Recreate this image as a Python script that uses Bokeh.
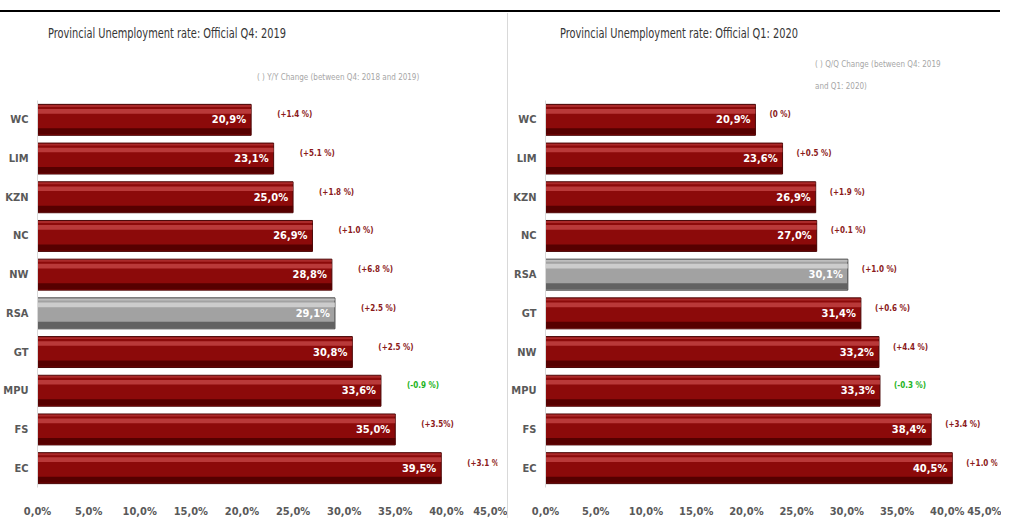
from bokeh.plotting import figure
from bokeh.models import FactorRange, FixedTicker, CustomJSTickFormatter, Div, ColumnDataSource
from bokeh.layouts import row, column
from bokeh.transform import dodge
from bokeh.core.properties import value
from bokeh.embed import file_html
from bokeh.resources import INLINE

# ---- data ----
left_cats = ["WC", "LIM", "KZN", "NC", "NW", "RSA", "GT", "MPU", "FS", "EC"]
left_vals = [20.9, 23.1, 25.0, 26.9, 28.8, 29.1, 30.8, 33.6, 35.0, 39.5]
left_chg = ["(+1.4 %)", "(+5.1 %)", "(+1.8 %)", "(+1.0 %)", "(+6.8 %)",
            "(+2.5 %)", "(+2.5 %)", "(-0.9 %)", "(+3.5%)", "(+3.1 %)"]

right_cats = ["WC", "LIM", "KZN", "NC", "RSA", "GT", "NW", "MPU", "FS", "EC"]
right_vals = [20.9, 23.6, 26.9, 27.0, 30.1, 31.4, 33.2, 33.3, 38.4, 40.5]
right_chg = ["(0 %)", "(+0.5 %)", "(+1.9 %)", "(+0.1 %)", "(+1.0 %)",
             "(+0.6 %)", "(+4.4 %)", "(-0.3 %)", "(+3.4 %)", "(+1.0 %)"]

x_ticks = [0, 5, 10, 15, 20, 25, 30, 35, 40, 45]

left_title = "Provincial Unemployment rate: Official Q4: 2019"
left_sub = "( ) Y/Y Change (between Q4: 2018 and 2019)"
right_title = "Provincial Unemployment rate: Official Q1: 2020"
right_sub1 = "( ) Q/Q Change (between Q4: 2019"
right_sub2 = "and Q1: 2020)"

FONT = "DejaVu Sans Condensed, Liberation Sans, sans-serif"
CSS_FONT = "'DejaVu Sans Condensed', 'Liberation Sans', sans-serif"

FRAME_H = 387
TOP = 2
BOT = 25
HEAD_H = 98


def span(left, top, size, color, text, sx=1.0):
    return ('<span style="position:absolute;left:%dpx;top:%dpx;font-size:%dpx;color:%s;'
            'white-space:nowrap;line-height:1;transform:scaleX(%.2f);transform-origin:left top;">%s</span>'
            % (left, top, size, color, sx, text))


header_html = (
    '<div style="position:relative;width:1000px;height:%dpx;font-family:%s;">' % (HEAD_H, CSS_FONT)
    + '<div style="position:absolute;left:0;top:10px;width:1000px;height:2px;background:#000;"></div>'
    + '<div style="position:absolute;left:507px;top:13px;width:1px;height:%dpx;background:#d9d9d9;"></div>' % (HEAD_H - 13)
    + span(48, 26, 14, "#363636", left_title, 0.78)
    + span(257, 74, 8, "#a6a6a6", left_sub)
    + span(560, 26, 14, "#363636", right_title, 0.78)
    + span(815, 61, 8, "#a6a6a6", right_sub1)
    + span(815, 83, 8, "#a6a6a6", right_sub2)
    + '</div>'
)


def make_panel(cats, vals, chg, fw, bl, br, chg_off):
    red = {"base": "#8c0a0a", "hi": "#c84a4a", "lo": "#560000", "edge": "#4a0808"}
    gray = {"base": "#a2a2a2", "hi": "#dadada", "lo": "#626262", "edge": "#444444"}
    base, hi, lo, edge, chg_col, txt = [], [], [], [], [], []
    for c, v, ch in zip(cats, vals, chg):
        pal = gray if c == "RSA" else red
        base.append(pal["base"]); hi.append(pal["hi"]); lo.append(pal["lo"]); edge.append(pal["edge"])
        chg_col.append("#22b422" if ch.startswith("(-") else "#8b1a1a")
        txt.append(("%.1f" % v).replace(".", ",") + "%")
    src = ColumnDataSource(dict(cat=cats, val=vals, chg=chg, base=base, hi=hi, lo=lo,
                                edge=edge, chg_col=chg_col, txt=txt))

    p = figure(frame_width=fw, frame_height=FRAME_H, output_backend="svg", toolbar_location=None,
               y_range=FactorRange(factors=list(reversed(cats)), range_padding=0),
               x_range=(0, 45), min_border_left=bl, min_border_right=br,
               min_border_top=TOP, min_border_bottom=BOT, margin=0)
    p.background_fill_color = "white"
    p.border_fill_color = "white"
    p.outline_line_color = None
    p.grid.grid_line_color = None

    yr = p.y_range
    p.hbar(y="cat", right="val", left=0, height=0.8, source=src,
           fill_color="base", line_color="edge", line_width=1)
    p.hbar(y=dodge("cat", -0.3, range=yr), right="val", left=0, height=0.16, source=src,
           fill_color="lo", line_color=None)
    p.hbar(y=dodge("cat", 0.22, range=yr), right="val", left=0, height=0.12, source=src,
           fill_color="hi", fill_alpha=0.75, line_color=None)
    p.hbar(y=dodge("cat", 0.36, range=yr), right="val", left=0, height=0.05, source=src,
           fill_color="hi", fill_alpha=0.5, line_color=None)

    p.text(x="val", y="cat", text="txt", source=src, x_offset=-5, text_align="right",
           text_baseline="middle", text_color="white", text_font=value(FONT),
           text_font_style="bold", text_font_size="11px")
    p.text(x="val", y="cat", text="chg", source=src, x_offset=chg_off, y_offset=-5,
           text_align="left", text_baseline="middle", text_color="chg_col",
           text_font=value(FONT), text_font_style="bold", text_font_size="8px")

    p.xaxis.ticker = FixedTicker(ticks=x_ticks)
    p.xaxis.formatter = CustomJSTickFormatter(code="return tick.toFixed(1).replace('.', ',') + '%';")
    p.xaxis.axis_line_color = None
    p.xaxis.major_tick_line_color = None
    p.xaxis.minor_tick_line_color = None
    p.xaxis.major_label_standoff = 11
    p.yaxis.axis_line_color = "#d9d9d9"
    p.yaxis.major_tick_line_color = None
    p.yaxis.minor_tick_line_color = None
    p.yaxis.major_label_standoff = 3
    for ax in (p.xaxis, p.yaxis):
        ax.major_label_text_font = FONT
        ax.major_label_text_font_style = "bold"
        ax.major_label_text_color = "#595959"
        ax.major_label_text_font_size = "11px"
    return p


left = make_panel(left_cats, left_vals, left_chg, 459, 28, 11, 26)
left.styles = {"border-right": "1px solid #d9d9d9"}
right = make_panel(right_cats, right_vals, right_chg, 452, 29, 4, 14)

header = Div(text=header_html, width=1000, height=HEAD_H, margin=0)
layout = column(header, row(left, right))

open("out.html", "w").write(file_html(layout, INLINE))
